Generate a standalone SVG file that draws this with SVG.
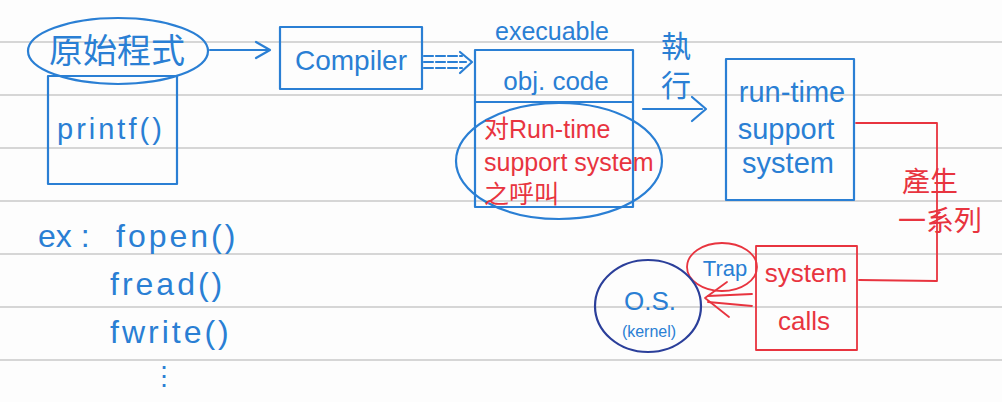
<svg xmlns="http://www.w3.org/2000/svg" width="1002" height="402" viewBox="0 0 1002 402">
  <style>
    .rule { stroke: #c9c9c9; stroke-width: 1.5; }
    .blue { fill: none; stroke: #2a7fd4; stroke-width: 2.2; stroke-linecap: round; stroke-linejoin: round; }
    .red { fill: none; stroke: #e8343f; stroke-width: 1.8; stroke-linecap: round; stroke-linejoin: round; }
    .navy { fill: none; stroke: #2b3f9a; stroke-width: 2.2; }
    .tb { fill: #2a7fd4; font-family: "Liberation Sans", "Noto Sans CJK TC", sans-serif; }
    .tr { fill: #e8343f; font-family: "Liberation Sans", "Noto Sans CJK TC", sans-serif; }
    .wide { letter-spacing: 3px; }
  </style>

  <!-- paper -->
  <rect width="1002" height="402" fill="#fdfdfd"/>
  <g id="rules">
    <line class="rule" x1="0" y1="42" x2="1002" y2="42"/>
    <line class="rule" x1="0" y1="95" x2="1002" y2="95"/>
    <line class="rule" x1="0" y1="148" x2="1002" y2="148"/>
    <line class="rule" x1="0" y1="201" x2="1002" y2="201"/>
    <line class="rule" x1="0" y1="254" x2="1002" y2="254"/>
    <line class="rule" x1="0" y1="307" x2="1002" y2="307"/>
    <line class="rule" x1="0" y1="360" x2="1002" y2="360"/>
  </g>

  <!-- connectors -->
  <g id="connectors">
    <!-- source -> compiler -->
    <path class="blue" d="M210,50 L268,50"/>
    <path class="blue" d="M256,42 L270,50 L256,58"/>
    <!-- compiler => executable (triple) -->
    <path class="blue" d="M424,56 L462,56 M424,62 L466,62 M424,68 L462,68" stroke-dasharray="9 3"/>
    <path class="blue" d="M460,52 L472,62 L460,73"/>
    <!-- executable -> run-time support (執行) -->
    <path class="blue" d="M643,109 L702,109"/>
    <path class="blue" d="M692,97 L706,109 L692,121"/>
    <!-- run-time support -> system calls (產生一系列) -->
    <path class="red" d="M856,123 L937,123 L937,281 L859,280"/>
    <!-- system calls -> O.S. (Trap) -->
    <path class="red" d="M752,294 L708,296 M752,306 L708,302"/>
    <path class="red" d="M727,282 L705,298 L729,317"/>
  </g>

  <!-- source program with printf() -->
  <g id="source">
    <rect class="blue" x="48" y="76" width="129" height="108"/>
    <ellipse class="blue" cx="118" cy="51" rx="90" ry="33" fill="#fdfdfd"/>
    <text class="tb" x="117" y="63" font-size="34" text-anchor="middle">原始程式</text>
    <text class="tb wide" x="57" y="139" font-size="29">printf()</text>
  </g>

  <!-- compiler -->
  <g id="compiler">
    <rect class="blue" x="280" y="27" width="142" height="62"/>
    <text class="tb" x="351" y="70" font-size="28" text-anchor="middle">Compiler</text>
  </g>

  <!-- executable -->
  <g id="executable">
    <text class="tb" x="552" y="40" font-size="25" text-anchor="middle">execuable</text>
    <rect class="blue" x="475" y="50" width="158" height="157"/>
    <line class="blue" x1="475" y1="102" x2="633" y2="102"/>
    <text class="tb" x="556" y="90" font-size="26" text-anchor="middle">obj. code</text>
    <ellipse class="blue" cx="559" cy="161" rx="103" ry="58"/>
    <text class="tr" x="484" y="138" font-size="25">对Run-time</text>
    <text class="tr" x="484" y="171" font-size="25">support system</text>
    <text class="tr" x="484" y="203" font-size="25">之呼叫</text>
  </g>

  <!-- execute label -->
  <g id="exec-label">
    <text class="tb" x="676" y="57" font-size="30" text-anchor="middle">執</text>
    <text class="tb" x="676" y="96" font-size="30" text-anchor="middle">行</text>
  </g>

  <!-- run-time support system -->
  <g id="runtime">
    <rect class="blue" x="726" y="59" width="128" height="141"/>
    <text class="tb" x="792" y="102" font-size="29" text-anchor="middle">run-time</text>
    <text class="tb" x="786" y="139" font-size="29" text-anchor="middle">support</text>
    <text class="tb" x="788" y="173" font-size="29" text-anchor="middle">system</text>
  </g>

  <!-- produces a series of -->
  <g id="produce-label">
    <text class="tr" x="930" y="192" font-size="28" text-anchor="middle">產生</text>
    <text class="tr" x="940" y="231" font-size="28" text-anchor="middle">一系列</text>
  </g>

  <!-- system calls -->
  <g id="syscalls">
    <rect class="red" x="756" y="246" width="101" height="104"/>
    <text class="tr" x="806" y="282" font-size="26" text-anchor="middle">system</text>
    <text class="tr" x="804" y="330" font-size="26" text-anchor="middle">calls</text>
  </g>

  <!-- trap -->
  <g id="trap">
    <ellipse class="red" cx="722" cy="267" rx="35" ry="24" stroke-width="1.5"/>
    <text class="tb" x="725" y="276" font-size="22" text-anchor="middle">Trap</text>
  </g>

  <!-- operating system kernel -->
  <g id="os">
    <ellipse class="navy" cx="648" cy="306" rx="53" ry="46"/>
    <text class="tb" x="650" y="310" font-size="26" text-anchor="middle">O.S.</text>
    <text class="tb" x="649" y="337" font-size="16" text-anchor="middle">(kernel)</text>
  </g>

  <!-- examples -->
  <g id="examples">
    <text class="tb" x="38" y="247" font-size="32">ex :</text>
    <text class="tb wide" x="116" y="247" font-size="32">fopen()</text>
    <text class="tb wide" x="110" y="295" font-size="32">fread()</text>
    <text class="tb wide" x="110" y="343" font-size="32">fwrite()</text>
    <text class="tb" x="164" y="385" font-size="26" text-anchor="middle">⋮</text>
  </g>
</svg>
